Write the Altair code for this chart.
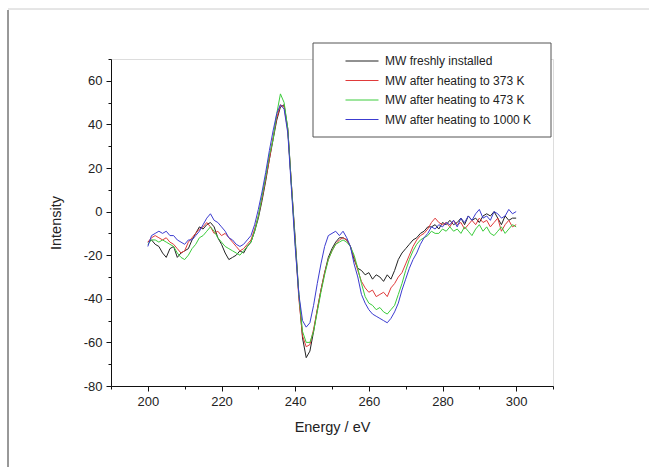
import altair as alt
import pandas as pd

energy = list(range(200, 301))

series_names = [
    "MW freshly installed",
    "MW after heating to 373 K",
    "MW after heating to 473 K",
    "MW after heating to 1000 K",
]
series_colors = ["#222222", "#e03a3a", "#3ccc3c", "#3c3cd0"]

fresh = [
    -14, -13, -15, -16, -19, -21, -17, -16, -21, -19,
    -18, -17, -13, -10, -7, -8, -6, -5, -7, -12,
    -15, -19, -22, -21, -20, -18, -19, -16, -14, -9,
    -3, 5, 14, 24, 33, 42, 48, 49, 38, 12,
    -12, -38, -58, -67, -64, -55, -45, -36, -28, -21,
    -17, -14, -12, -12, -13, -16, -22, -26, -27, -29,
    -28, -31, -29, -30, -32, -29, -31, -27, -22, -19,
    -17, -15, -13, -12, -10, -9, -7, -7, -6, -8,
    -5, -6, -4, -6, -5, -3, -6, -2, -4, -3,
    -5, -2, -1, -2, 0, -3, -6, -2, -4, -3,
    -3,
]
heat373 = [
    -14, -12, -11, -12, -13, -12, -14, -15, -17, -19,
    -18, -14, -12, -10, -8, -7, -5, -7, -10, -9,
    -11, -10, -12, -14, -16, -18, -17, -15, -13, -8,
    -2, 6, 15, 24, 34, 43, 49, 48, 37, 12,
    -14, -40, -57, -62, -61, -54, -45, -36, -28, -22,
    -18, -15, -13, -12, -13, -16, -21, -27, -32, -35,
    -37, -36, -39, -38, -37, -39, -35, -33, -30, -28,
    -24, -20, -16, -13, -11, -10, -8, -5, -3, -5,
    -6, -5, -7, -4, -6, -5, -8, -6, -4, -6,
    -3, -5, -4, -7, -5, -3, -9, -6, -4, -7,
    -6,
]
heat473 = [
    -15, -13, -13, -14, -13, -14, -15, -16, -19, -21,
    -22, -20, -17, -15, -12, -11, -9, -7, -9, -12,
    -14, -16, -17, -18, -19, -20, -18, -16, -14, -9,
    -2, 7, 16, 26, 33, 45, 54, 50, 38, 12,
    -14, -38, -55, -60, -60, -55, -46, -37, -29, -22,
    -18, -15, -14, -13, -14, -16, -20, -26, -33, -39,
    -42, -43, -45, -44, -46, -47, -45, -43, -38, -33,
    -27, -22, -18, -15, -13, -12, -11, -9, -10, -10,
    -8, -9, -7, -9, -8, -10, -7, -9, -11, -8,
    -6, -9, -7, -10, -11, -9, -7, -10, -8, -6,
    -7,
]
heat1000 = [
    -16, -11, -10, -9, -10, -9, -11, -11, -13, -14,
    -15, -13, -13, -11, -9, -6, -3, -1, -4, -5,
    -7, -9, -12, -13, -15, -16, -15, -13, -11, -6,
    1, 9, 18, 28, 37, 45, 49, 47, 36, 10,
    -16, -38, -50, -53, -51, -43, -33, -24, -16, -11,
    -10, -9, -11, -9, -12, -16, -24, -30, -38, -42,
    -45, -47, -48, -49, -50, -51, -49, -46, -42, -36,
    -31, -26, -22, -19, -15, -12, -10, -7, -8, -6,
    -7, -5, -6, -4, -7, -3, -5, -2, -4, -1,
    1, -3, -2, -4, 0, -1, -3, -2, 1, -1,
    0,
]

x_ticks = [190, 200, 210, 220, 230, 240, 250, 260, 270, 280, 290, 300, 310]
y_ticks = [-80, -70, -60, -50, -40, -30, -20, -10, 0, 10, 20, 30, 40, 50, 60, 70]

rows = []
for name, vals in zip(series_names, [fresh, heat373, heat473, heat1000]):
    for e, v in zip(energy, vals):
        rows.append({"Energy": e, "Intensity": v, "Sample": name})
df = pd.DataFrame(rows)

W, H = 442, 327
FONT = "Liberation Sans"

xscale = alt.Scale(domain=[190, 310], nice=False, zero=False)
yscale = alt.Scale(domain=[-80, 70], nice=False, zero=False)

major_only = "datum.value % 20 == 0 ? '' + datum.value : ''"
tick_len = {"condition": {"test": "datum.value % 20 != 0", "value": 3}, "value": 5}

common_axis = dict(grid=False, labelExpr=major_only, tickSize=tick_len,
                   labelPadding=4, domainColor="#111", tickColor="#111",
                   labelFont=FONT, titleFont=FONT, labelFontSize=13,
                   titleFontSize=14.5, labelColor="#222", titleColor="#222",
                   titleFontWeight="normal")

lines = alt.Chart(df).mark_line(strokeWidth=1).encode(
    x=alt.X("Energy:Q", scale=xscale,
            axis=alt.Axis(values=x_ticks, title="Energy / eV",
                          titlePadding=12, **common_axis)),
    y=alt.Y("Intensity:Q", scale=yscale,
            axis=alt.Axis(values=y_ticks, title="Intensity",
                          titlePadding=20, **common_axis)),
    color=alt.Color("Sample:N",
                    scale=alt.Scale(domain=series_names, range=series_colors),
                    legend=alt.Legend(orient="none", legendX=234, legendY=-5,
                                      title=None, symbolType="stroke",
                                      symbolSize=1089, symbolStrokeWidth=1,
                                      clipHeight=14, rowPadding=5.5,
                                      labelFontSize=12, labelFont=FONT,
                                      labelColor="#222", labelOffset=6,
                                      padding=0, symbolOffset=0)),
    order="Energy:Q",
)

box = alt.Chart(pd.DataFrame({"a": [0]})).mark_rect(
    fill="white", stroke="#555", strokeWidth=1
).encode(x=alt.value(202), x2=alt.value(440), y=alt.value(-16), y2=alt.value(78))

frame_top = alt.Chart(pd.DataFrame({"a": [0]})).mark_rule(color="#cccccc").encode(
    x=alt.value(-103), x2=alt.value(538), y=alt.value(-50)
)
frame_left = alt.Chart(pd.DataFrame({"a": [0]})).mark_rule(color="#333333").encode(
    x=alt.value(-103), y=alt.value(-49), y2=alt.value(408)
)

chart = alt.layer(frame_top, frame_left, box, lines).properties(
    width=W, height=H,
    autosize=alt.AutoSizeParams(type="none"),
    padding={"left": 111, "top": 59, "right": 96, "bottom": 81},
).configure_view(stroke=None).configure(background="white")

chart.save("out.html", embed_options={"renderer": "svg", "actions": False})
